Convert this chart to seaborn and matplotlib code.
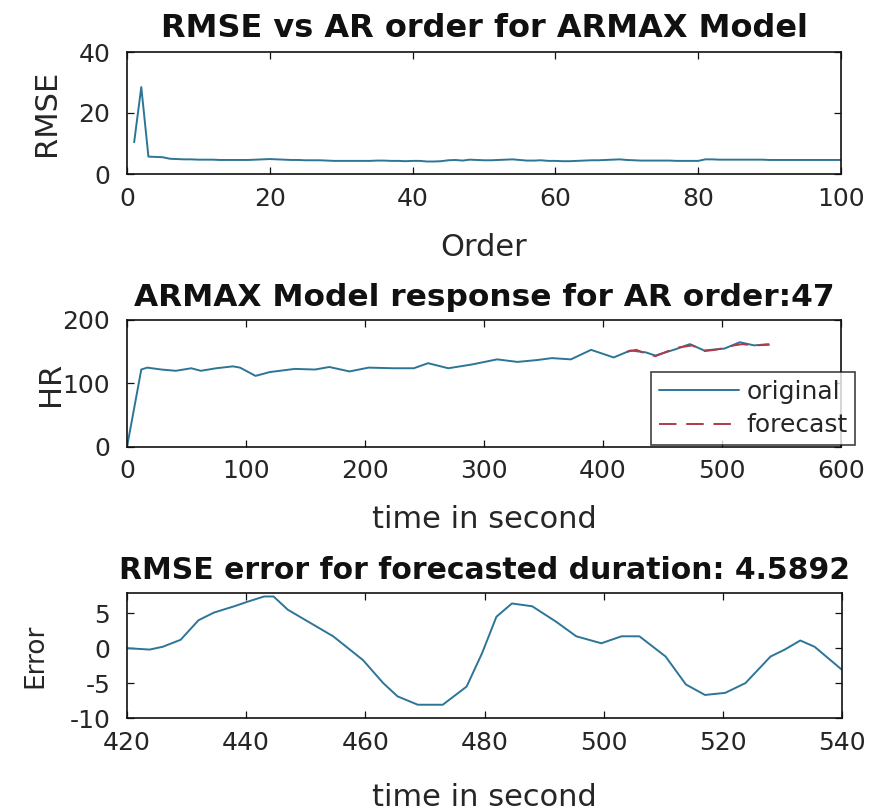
import numpy as np
import pandas as pd
import matplotlib
matplotlib.use("Agg")
import matplotlib.pyplot as plt
import seaborn as sns

# ---------------- data ----------------
order = list(range(1, 101))
rmse = [10.4, 28.5, 5.7, 5.6, 5.5, 5.0, 4.9, 4.8, 4.8, 4.7,
        4.7, 4.7, 4.6, 4.6, 4.6, 4.6, 4.6, 4.7, 4.8, 4.9,
        4.8, 4.7, 4.6, 4.6, 4.5, 4.5, 4.5, 4.4, 4.3, 4.3,
        4.3, 4.3, 4.3, 4.3, 4.4, 4.4, 4.3, 4.3, 4.2, 4.3,
        4.3, 4.1, 4.1, 4.2, 4.5, 4.6, 4.4, 4.7, 4.6, 4.5,
        4.5, 4.6, 4.7, 4.8, 4.6, 4.4, 4.4, 4.5, 4.3, 4.3,
        4.2, 4.2, 4.3, 4.4, 4.5, 4.5, 4.6, 4.7, 4.8, 4.6,
        4.5, 4.4, 4.4, 4.4, 4.4, 4.4, 4.3, 4.3, 4.3, 4.3,
        4.8, 4.8, 4.7, 4.7, 4.7, 4.7, 4.7, 4.7, 4.7, 4.6,
        4.6, 4.6, 4.6, 4.6, 4.6, 4.6, 4.6, 4.6, 4.6, 4.6]

t_orig = [0, 12, 17, 29, 41, 54, 62, 75, 89, 95, 108, 120, 141, 158, 170, 187,
          203, 224, 241, 253, 270, 290, 311, 328, 345, 357, 373, 390, 409,
          423, 436, 444, 461, 473, 485, 502, 515, 527, 539]
hr_orig = [0, 122, 125, 122, 120, 124, 120, 124, 127, 125, 112, 118, 123, 122,
           126, 119, 125, 124, 124, 132, 124, 130, 138, 134, 137, 140, 138, 153,
           141, 152, 149, 144, 154, 162, 152, 155, 165, 160, 162]

t_fc = [420, 428, 436, 444, 452, 461, 468, 475, 485, 494, 502, 510, 517, 527, 540]
hr_fc = [150, 153, 147, 143, 149, 156, 158, 160, 151, 153, 156, 160, 162, 160, 161]

t_err = [420, 423.8, 426, 429, 432, 434.6, 438, 440.4, 443, 444.6, 447, 450.4,
         454.6, 459.6, 463, 465.4, 468.8, 473, 477, 479.6, 482, 484.6, 488,
         492, 495.4, 499.6, 503, 506, 510.4, 513.8, 517, 520.4, 523.8, 528,
         530.4, 533, 535.4, 540]
err = [0.0, -0.2, 0.2, 1.2, 4.0, 5.1, 6.0, 6.7, 7.4, 7.4, 5.5, 3.8,
       1.7, -1.7, -5.0, -6.9, -8.1, -8.1, -5.5, -0.7, 4.5, 6.4, 6.0,
       3.8, 1.7, 0.7, 1.7, 1.7, -1.2, -5.2, -6.7, -6.4, -5.0, -1.2,
       -0.2, 1.1, 0.2, -3.1]

titles = ["RMSE vs AR order for ARMAX Model",
          "ARMAX Model response for AR order:47",
          "RMSE error for forecasted duration: 4.5892"]

# ---------------- style ----------------
sns.set_theme(style="white")
plt.rcParams['font.family'] = ['DejaVu Sans']
plt.rcParams['axes.unicode_minus'] = False

blue = '#2d7596'
red = '#b03a48'
txt = '#262626'

fig = plt.figure(figsize=(8.71, 8.11), dpi=100)
W = 871
H = 811
def box(l, r, t, b):
    return [l / W, 1 - b / H, (r - l) / W, (b - t) / H]

ax1 = fig.add_axes(box(127, 841, 52, 174))
ax2 = fig.add_axes(box(127, 841, 320, 447))
ax3 = fig.add_axes(box(127, 842, 593, 718))

for ax in (ax1, ax2, ax3):
    for s in ax.spines.values():
        s.set_color('#111111')
        s.set_linewidth(1.2)
    ax.tick_params(axis='both', which='both', direction='in', length=5,
                   top=True, right=True, bottom=True, left=True,
                   colors='#111111', labelcolor=txt, width=0.9,
                   labelsize=18)
    ax.tick_params(axis='x', pad=9)
    ax.tick_params(axis='y', pad=12)

def ylab(ax, text, xpix, size):
    ax.set_ylabel(text, fontsize=size, color=txt)
    bb = ax.get_position()
    ax.yaxis.set_label_coords((xpix / W - bb.x0) / bb.width, 0.5)
    ax.yaxis.label.set_va('center')

def xlab(ax, text, ypix, size):
    ax.set_xlabel(text, fontsize=size, color=txt)
    bb = ax.get_position()
    ax.xaxis.set_label_coords(0.5, ((1 - ypix / H) - bb.y0) / bb.height)
    ax.xaxis.label.set_va('center')

df1 = pd.DataFrame({'order': order, 'rmse': rmse})
sns.lineplot(data=df1, x='order', y='rmse', ax=ax1, color=blue, lw=1.4)
ax1.set_xlim(0, 100)
ax1.set_ylim(0, 40)
ax1.set_xticks([0, 20, 40, 60, 80, 100])
ax1.set_yticks([0, 20, 40])
xlab(ax1, 'Order', 248, 22)
ylab(ax1, 'RMSE', 46, 22)
ax1.set_title(titles[0], fontsize=23, fontweight='bold', pad=11, color='#111111')

df2a = pd.DataFrame({'t': t_orig, 'hr': hr_orig})
df2b = pd.DataFrame({'t': t_fc, 'hr': hr_fc})
sns.lineplot(data=df2a, x='t', y='hr', ax=ax2, color=blue, lw=1.4, label='original')
sns.lineplot(data=df2b, x='t', y='hr', ax=ax2, color=red, lw=1.4, label='forecast')
ax2.lines[-1].set_dashes([9, 5])
ax2.set_xlim(0, 600)
ax2.set_ylim(0, 200)
ax2.set_xticks([0, 100, 200, 300, 400, 500, 600])
ax2.set_yticks([0, 100, 200])
xlab(ax2, 'time in second', 520, 22)
ylab(ax2, 'HR', 50, 22)
ax2.set_title(titles[1], fontsize=22.5, fontweight='bold', pad=10, color='#111111')
bb2 = ax2.get_position()
leg = ax2.legend(loc='lower right',
                 bbox_to_anchor=((855 / W - bb2.x0) / bb2.width,
                                 ((1 - 445 / H) - bb2.y0) / bb2.height),
                 fontsize=18, frameon=True, fancybox=False, edgecolor='#111111',
                 handlelength=3.2, borderpad=0.3, labelspacing=0.4,
                 handletextpad=0.3, borderaxespad=0.0)
leg.get_frame().set_linewidth(1.2)
for t in leg.get_texts():
    t.set_color(txt)

df3 = pd.DataFrame({'t': t_err, 'err': err})
sns.lineplot(data=df3, x='t', y='err', ax=ax3, color=blue, lw=1.4)
ax3.set_xlim(420, 540)
ax3.set_ylim(-10, 7.9)
ax3.set_xticks([420, 440, 460, 480, 500, 520, 540])
ax3.set_yticks([-10, -5, 0, 5])
xlab(ax3, 'time in second', 798, 22)
ylab(ax3, 'Error', 35, 19)
ax3.set_title(titles[2], fontsize=21.5, fontweight='bold', pad=10, color='#111111')

fig.savefig('out.png', dpi=100)
